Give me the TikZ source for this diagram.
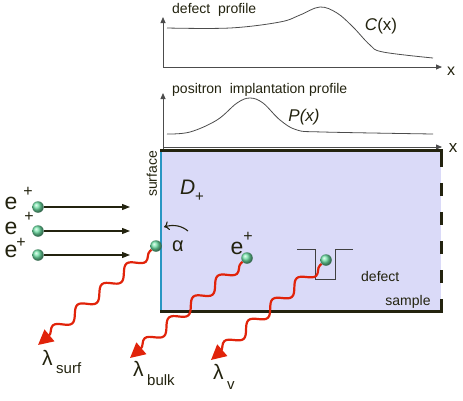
\documentclass[tikz,border=0pt]{standalone}
\usepackage{fontspec}
\setmainfont{Liberation Sans}
\usetikzlibrary{arrows.meta,decorations.pathmorphing}
\definecolor{samplefill}{RGB}{218,218,248}
\definecolor{surfblue}{RGB}{40,150,195}
\definecolor{wavered}{RGB}{225,35,10}
\definecolor{edgedark}{RGB}{35,35,15}
\definecolor{ballgreen}{RGB}{110,225,165}
\begin{document}
\begin{tikzpicture}[x=1pt, y=-1pt,
    axis/.style={draw=black!70, line width=0.8pt, -{Triangle[length=6pt,width=5pt]}},
    edge/.style={draw=edgedark, line width=3pt},
    posi/.style={circle, inner sep=0pt, minimum size=11.5pt, ball color=ballgreen},
    inarrow/.style={draw=edgedark, line width=1.2pt, -{Triangle[length=8pt,width=6pt]}},
    wave/.style={wavered, line width=2.2pt, decorate,
      decoration={snake, amplitude=5.5pt, segment length=32pt, pre length=2pt, post length=9pt},
      -{Triangle[length=15pt,width=15pt]}},
    txt/.style={font=\fontsize{14}{16}\selectfont, inner sep=0pt, text=edgedark},
    big/.style={font=\fontsize{21}{24}\selectfont, inner sep=0pt, text=edgedark},
  ]
  \useasboundingbox (0,0) rectangle (463,400);
  % defect profile
  \coordinate (o1) at (163,67);
  \coordinate (y1) at (163,17);
  \coordinate (x1) at (442,67);
  \draw[axis] (o1) -- (y1);
  \draw[axis] (o1) -- (x1);
  \draw[black!70, line width=0.8pt] plot[smooth, tension=0.6] coordinates {(167,28) (230,28) (280,22) (300,15) (320,7) (337,13) (353,27) (370,45) (383,52) (433,58)};
  \node[txt, anchor=west] (deflab) at (172,10) {defect\ \ profile};
  \node[txt, font=\fontsize{16}{18}\selectfont] (xtop) at (451,71) {x};
  \node[txt, font=\fontsize{17}{20}\selectfont] (clab) at (381,26) {\textit{C}(x)};
  % implantation profile
  \coordinate (o2) at (163,150);
  \coordinate (y2) at (163,93);
  \coordinate (x2) at (442,147);
  \coordinate (o2x) at (163,147);
  \draw[axis] (o2) -- (y2);
  \draw[axis] (o2x) -- (x2);
  \draw[black!70, line width=0.8pt] plot[smooth, tension=0.6] coordinates {(167,134) (190,132) (217,120) (237,103) (250,98) (263,103) (280,120) (297,130) (323,132) (433,134)};
  \node[txt, anchor=west] (implab) at (172,90) {positron\ \ implantation profile};
  \node[txt, font=\fontsize{17}{20}\selectfont] (xbot) at (453,148) {x};
  \node[txt, font=\fontsize{17}{20}\selectfont\itshape] (plab) at (304,117) {P(x)};
  % sample
  \fill[samplefill] (161,150) rectangle (441,311);
  \draw[surfblue, line width=2.5pt] (161,150) -- (161,311);
  \draw[edge] (160,150) -- (441,150) -- (441,167);
  \draw[edge] (160,311) -- (441,311) -- (441,299);
  \foreach \y in {183,212,241,270}
    \draw[edge] (441,\y) -- (441,\y+13);
  \node[txt, rotate=90] (surf) at (152,174) {surface};
  \node[big, font=\fontsize{21}{24}\selectfont\itshape] (dlab) at (192,191) {D\raisebox{-7pt}{\fontsize{15}{16}\selectfont\upshape +}};
  \node[txt] (sample) at (408,302) {sample};
  \draw[black!75, line width=1pt] (297,249) -- (315,249) -- (315,279) -- (335,279) -- (335,249) -- (353,249);
  \node[txt, anchor=west] (deflbl) at (361,276) {defect};
  \coordinate (aS) at (188,231);
  \coordinate (aE) at (164,227);
  \draw[edgedark, line width=1.1pt, -{To[length=5pt,width=9pt]}] (aS) .. controls (182,226) and (174,224) .. (aE);
  \node[big, font=\fontsize{20}{24}\selectfont] (alab) at (178,246) {α};
  % incoming positrons
  \foreach \i/\y in {1/207,2/231,3/255} {
    \node[posi] (p\i) at (38,\y) {};
    \coordinate (t\i) at (130,\y);
    \draw[inarrow] (p\i) -- (t\i);
  }
  \node[big, font=\fontsize{23}{24}\selectfont] (e1) at (11,203) {e};
  \node[txt, font=\fontsize{16}{18}\selectfont] (e1p) at (28,192) {+};
  \node[big, font=\fontsize{23}{24}\selectfont] (e2) at (11,228) {e};
  \node[txt, font=\fontsize{16}{18}\selectfont] (e2p) at (29,217) {+};
  \node[big, font=\fontsize{23}{24}\selectfont] (e3) at (11,251) {e};
  \node[txt, font=\fontsize{16}{18}\selectfont] (e3p) at (21,243) {+};
  % annihilation
  \coordinate (ts) at (38,345);
  \coordinate (tb) at (130,358);
  \coordinate (tv) at (211,360);
  \node[posi] (ps) at (156,246) {};
  \node[posi] (pb) at (247,258) {};
  \node[posi] (pd) at (326,260) {};
  \draw[wave] (ps) -- (ts);
  \draw[wave] (pb) -- (tb);
  \draw[wave] (pd) -- (tv);
  \node[big, font=\fontsize{23}{24}\selectfont] (eb) at (237,248) {e};
  \node[txt, font=\fontsize{16}{18}\selectfont] (ebp) at (248,237) {+};
  \node[big, anchor=west] (lsurf) at (42,362) {λ\,\raisebox{-8pt}{\fontsize{15}{16}\selectfont surf}};
  \node[big, anchor=west] (lbulk) at (133,373) {λ\,\raisebox{-9pt}{\fontsize{15}{16}\selectfont bulk}};
  \node[big, anchor=west] (lv) at (213,377) {λ\,\raisebox{-10pt}{\fontsize{15}{16}\selectfont v}};
\end{tikzpicture}
\end{document}
